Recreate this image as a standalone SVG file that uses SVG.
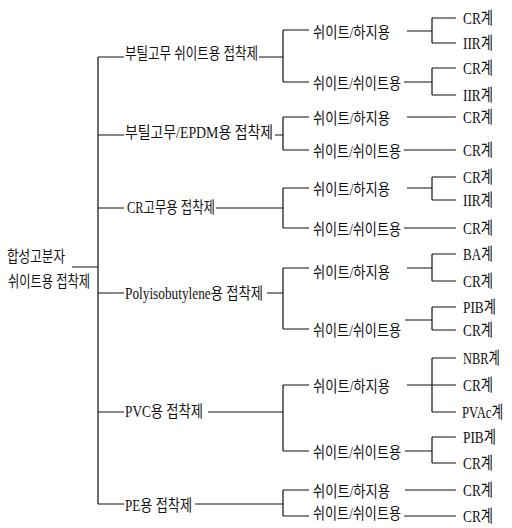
<svg xmlns="http://www.w3.org/2000/svg" width="512" height="528" viewBox="0 0 512 528">
<style>
text{font-family:"Liberation Serif","Noto Sans CJK KR",serif;font-size:16px;fill:#111}
text.t{font-size:17px}
.c path{stroke:#111;stroke-width:1.2;fill:none}
</style>
<rect width="512" height="528" fill="#fff"/>
<g class="c" id="connectors">
<path d="M72 267H98M98 57V504"/>
<path d="M98 57H124M98 135H124M98 208H124M98 293H124M98 412H124M98 504H124"/>
<path d="M259 57H283M275 135H283M216 208H283M267 293H283M208 412H283M195 504H283"/>
<path d="M283 30V82M283 117V150M283 188V228M283 268V329M283 385V451M283 490V516"/>
<path d="M283 30H309M283 82H309M283 117H309M283 150H309M283 188H309M283 228H309M283 268H309M283 329H309M283 385H309M283 451H309M283 490H309M283 516H309"/>
<path d="M407 31H432M404 82H432M407 117H456M404 150H456M407 188H432M404 228H456M407 268H432M405 320H432M407 385H456M405 451H432M405 490H456M404 516H456"/>
<path d="M432 18V43M432 68V95M432 177V200M432 254V281M432 307V330M432 358V412M432 437V463"/>
<path d="M432 18H456M432 43H456M432 68H456M432 95H456M432 177H456M432 200H456M432 254H456M432 281H456M432 307H456M432 330H456M432 358H456M432 412H456M432 437H456M432 463H456"/>
</g>
<g id="root"><text x="7" y="261.5" textLength="58" lengthAdjust="spacingAndGlyphs">합성고분자</text><text x="8" y="286.5" textLength="82" lengthAdjust="spacingAndGlyphs">쉬이트용 접착제</text></g>
<g id="n1"><text x="125" y="59" textLength="133" lengthAdjust="spacingAndGlyphs">부틸고무 쉬이트용 접착제</text></g>
<g id="n2"><text x="125" y="137.5" textLength="148" lengthAdjust="spacingAndGlyphs">부틸고무/EPDM용 접착제</text></g>
<g id="n3"><text x="127" y="213" textLength="88" lengthAdjust="spacingAndGlyphs">CR고무용 접착제</text></g>
<g id="n4"><text x="125" y="298.5" textLength="138" lengthAdjust="spacingAndGlyphs">Polyisobutylene용 접착제</text></g>
<g id="n5"><text x="125" y="416.5" textLength="78" lengthAdjust="spacingAndGlyphs">PVC용 접착제</text></g>
<g id="n6"><text x="125" y="510.5" textLength="67" lengthAdjust="spacingAndGlyphs">PE용 접착제</text></g>
<g id="n1a"><text x="313" y="37.5" textLength="77" lengthAdjust="spacingAndGlyphs">쉬이트/하지용</text></g>
<g id="n1b"><text x="313" y="88.5" textLength="88" lengthAdjust="spacingAndGlyphs">쉬이트/쉬이트용</text></g>
<g id="n2a"><text x="313" y="123.5" textLength="77" lengthAdjust="spacingAndGlyphs">쉬이트/하지용</text></g>
<g id="n2b"><text x="313" y="156.5" textLength="88" lengthAdjust="spacingAndGlyphs">쉬이트/쉬이트용</text></g>
<g id="n3a"><text x="313" y="194.5" textLength="77" lengthAdjust="spacingAndGlyphs">쉬이트/하지용</text></g>
<g id="n3b"><text x="313" y="234.5" textLength="88" lengthAdjust="spacingAndGlyphs">쉬이트/쉬이트용</text></g>
<g id="n4a"><text x="313" y="277.5" textLength="77" lengthAdjust="spacingAndGlyphs">쉬이트/하지용</text></g>
<g id="n4b"><text x="313" y="335.5" textLength="88" lengthAdjust="spacingAndGlyphs">쉬이트/쉬이트용</text></g>
<g id="n5a"><text x="313" y="391.5" textLength="77" lengthAdjust="spacingAndGlyphs">쉬이트/하지용</text></g>
<g id="n5b"><text x="313" y="457.5" textLength="88" lengthAdjust="spacingAndGlyphs">쉬이트/쉬이트용</text></g>
<g id="n6a"><text x="313" y="496.5" textLength="77" lengthAdjust="spacingAndGlyphs">쉬이트/하지용</text></g>
<g id="n6b"><text x="313" y="518.5" textLength="88" lengthAdjust="spacingAndGlyphs">쉬이트/쉬이트용</text></g>
<g id="l1"><text class="t" x="463" y="24" textLength="30" lengthAdjust="spacingAndGlyphs">CR계</text></g>
<g id="l2"><text class="t" x="463" y="49" textLength="30" lengthAdjust="spacingAndGlyphs">IIR계</text></g>
<g id="l3"><text class="t" x="463" y="74" textLength="30" lengthAdjust="spacingAndGlyphs">CR계</text></g>
<g id="l4"><text class="t" x="463" y="101" textLength="30" lengthAdjust="spacingAndGlyphs">IIR계</text></g>
<g id="l5"><text class="t" x="463" y="123" textLength="30" lengthAdjust="spacingAndGlyphs">CR계</text></g>
<g id="l6"><text class="t" x="463" y="156" textLength="30" lengthAdjust="spacingAndGlyphs">CR계</text></g>
<g id="l7"><text class="t" x="463" y="183" textLength="30" lengthAdjust="spacingAndGlyphs">CR계</text></g>
<g id="l8"><text class="t" x="463" y="206" textLength="30" lengthAdjust="spacingAndGlyphs">IIR계</text></g>
<g id="l9"><text class="t" x="463" y="234" textLength="30" lengthAdjust="spacingAndGlyphs">CR계</text></g>
<g id="l10"><text class="t" x="463" y="260" textLength="30" lengthAdjust="spacingAndGlyphs">BA계</text></g>
<g id="l11"><text class="t" x="463" y="287" textLength="30" lengthAdjust="spacingAndGlyphs">CR계</text></g>
<g id="l12"><text class="t" x="463" y="313" textLength="33" lengthAdjust="spacingAndGlyphs">PIB계</text></g>
<g id="l13"><text class="t" x="463" y="336" textLength="30" lengthAdjust="spacingAndGlyphs">CR계</text></g>
<g id="l14"><text class="t" transform="translate(463 364) scale(0.73 1)">NBR계</text></g>
<g id="l15"><text class="t" x="463" y="391" textLength="30" lengthAdjust="spacingAndGlyphs">CR계</text></g>
<g id="l16"><text class="t" transform="translate(462 418) scale(0.75 1)">PVAc계</text></g>
<g id="l17"><text class="t" x="463" y="443" textLength="33" lengthAdjust="spacingAndGlyphs">PIB계</text></g>
<g id="l18"><text class="t" x="463" y="469" textLength="30" lengthAdjust="spacingAndGlyphs">CR계</text></g>
<g id="l19"><text class="t" x="463" y="496" textLength="30" lengthAdjust="spacingAndGlyphs">CR계</text></g>
<g id="l20"><text class="t" x="463" y="522" textLength="30" lengthAdjust="spacingAndGlyphs">CR계</text></g>
</svg>
